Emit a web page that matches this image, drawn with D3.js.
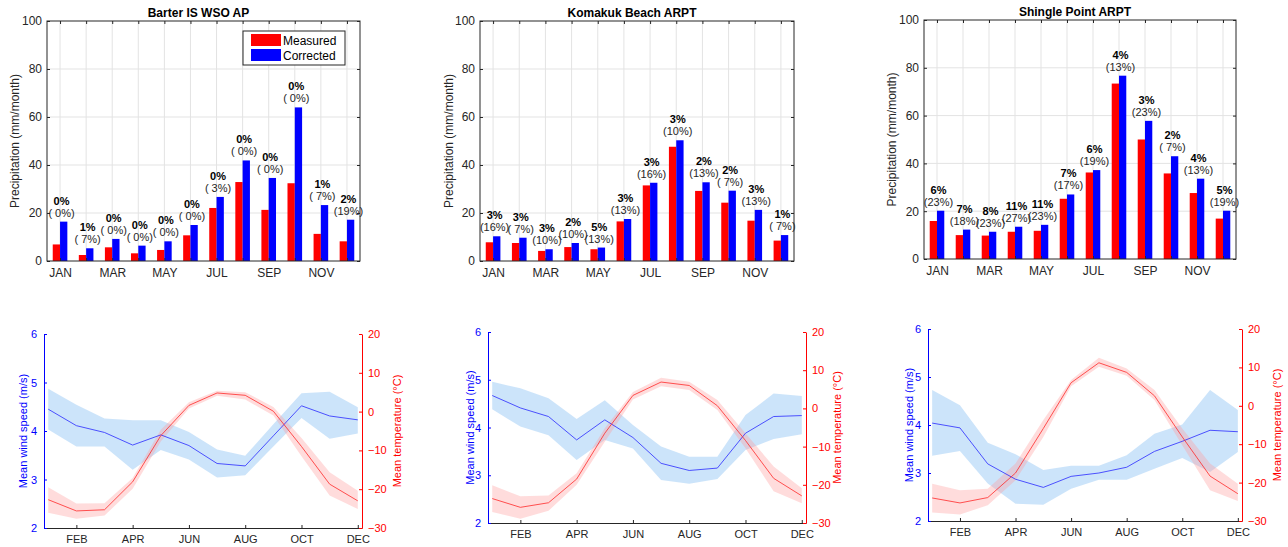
<!DOCTYPE html>
<html>
<head>
<meta charset="utf-8">
<script src="https://cdn.jsdelivr.net/npm/d3@7"></script>
<style>
  body { margin: 0; background: #fff; }
  svg { font-family: "Liberation Sans", Arial, sans-serif; }
  text { white-space: pre; }
</style>
</head>
<body>
<div id="chart"></div>
<script>
// month names
const months = ['JAN', 'FEB', 'MAR', 'APR', 'MAY', 'JUN', 'JUL', 'AUG', 'SEP', 'OCT', 'NOV', 'DEC'];
const stations = ['Barter IS WSO AP', 'Komakuk Beach ARPT', 'Shingle Point ARPT'];

// precipitation (mm/month)
const barterMeasured = [6.9, 2.5, 5.7, 3.2, 4.6, 10.7, 22.1, 32.9, 21.3, 32.4, 11.3, 8.2];
const barterCorrected = [16.4, 5.3, 9.2, 6.4, 8.2, 15.0, 26.7, 41.9, 34.6, 64.0, 23.3, 17.2];
const barterPct1 = ['0%', '1%', '0%', '0%', '0%', '0%', '0%', '0%', '0%', '0%', '1%', '2%'];
const barterPct2 = ['( 0%)', '( 7%)', '( 0%)', '( 0%)', '( 0%)', '( 0%)', '( 3%)', '( 0%)', '( 0%)', '( 0%)', '( 7%)', '(19%)'];

const komakukMeasured = [7.8, 7.5, 4.2, 5.8, 4.9, 16.5, 31.5, 47.6, 29.2, 24.3, 16.8, 8.5];
const komakukCorrected = [10.3, 9.7, 4.9, 7.5, 5.6, 17.5, 32.6, 50.3, 32.8, 29.3, 21.3, 10.8];
const komakukPct1 = ['3%', '3%', '3%', '2%', '5%', '3%', '3%', '3%', '2%', '2%', '3%', '1%'];
const komakukPct2 = ['(16%)', '( 7%)', '(10%)', '(10%)', '(13%)', '(13%)', '(16%)', '(10%)', '(13%)', '( 7%)', '(13%)', '( 7%)'];

const shingleMeasured = [15.9, 10.0, 9.8, 11.4, 11.8, 25.2, 36.2, 73.4, 50.0, 35.8, 27.6, 16.9];
const shingleCorrected = [20.2, 12.3, 11.4, 13.5, 14.3, 27.0, 37.2, 76.7, 57.8, 43.0, 33.6, 20.2];
const shinglePct1 = ['6%', '7%', '8%', '11%', '11%', '7%', '6%', '4%', '3%', '2%', '4%', '5%'];
const shinglePct2 = ['(23%)', '(18%)', '(23%)', '(27%)', '(23%)', '(17%)', '(19%)', '(13%)', '(23%)', '( 7%)', '(13%)', '(19%)'];

// wind speed (m/s): mean, lower, upper
const barterWind = [4.45, 4.11, 3.97, 3.71, 3.92, 3.70, 3.33, 3.28, 3.90, 4.52, 4.31, 4.23];
const barterWindLo = [4.03, 3.68, 3.68, 3.20, 3.61, 3.41, 3.04, 3.09, 3.68, 4.27, 3.84, 3.95];
const barterWindHi = [4.87, 4.54, 4.26, 4.22, 4.22, 3.98, 3.62, 3.49, 4.14, 4.78, 4.81, 4.49];
const komakukWind = [4.67, 4.41, 4.23, 3.74, 4.16, 3.79, 3.25, 3.10, 3.15, 3.88, 4.23, 4.25];
const komakukWindLo = [4.38, 4.02, 3.84, 3.32, 3.74, 3.56, 2.90, 2.82, 2.92, 3.53, 3.76, 3.86];
const komakukWindHi = [4.96, 4.82, 4.61, 4.18, 4.57, 4.05, 3.60, 3.39, 3.39, 4.26, 4.71, 4.66];
const shingleWind = [4.04, 3.94, 3.19, 2.87, 2.70, 2.93, 3.00, 3.12, 3.45, 3.66, 3.89, 3.86];
const shingleWindLo = [3.36, 3.46, 2.78, 2.36, 2.34, 2.67, 2.86, 2.86, 3.09, 3.31, 3.02, 3.44];
const shingleWindHi = [4.73, 4.41, 3.63, 3.39, 3.06, 3.15, 3.15, 3.37, 3.82, 4.01, 4.73, 4.31];

// temperature (degC): mean, lower, upper
const barterTemp = [-22.7, -25.6, -25.3, -18.1, -6.2, 1.6, 4.8, 4.2, 0.1, -9.0, -18.7, -23.0];
const barterTempLo = [-26.1, -27.6, -26.8, -19.9, -7.7, 0.8, 4.1, 3.1, -1.0, -11.5, -21.6, -25.1];
const barterTempHi = [-19.5, -23.7, -23.6, -17.1, -4.7, 2.4, 5.4, 5.0, 1.2, -6.8, -15.6, -20.4];
const komakukTemp = [-23.6, -25.9, -24.7, -18.5, -6.5, 3.4, 6.9, 6.0, 0.7, -8.4, -18.3, -22.9];
const komakukTempLo = [-27.1, -28.9, -26.8, -20.0, -8.7, 2.3, 5.8, 4.8, -0.4, -10.4, -21.7, -24.8];
const komakukTempHi = [-20.1, -23.0, -22.8, -17.0, -5.2, 4.3, 8.0, 7.0, 2.2, -6.5, -15.2, -20.9];
const shingleTemp = [-24.0, -25.3, -23.9, -17.5, -5.9, 6.0, 11.2, 8.7, 2.6, -8.1, -18.3, -22.9];
const shingleTempLo = [-27.8, -28.3, -25.9, -19.4, -8.1, 5.1, 10.2, 7.8, 1.5, -10.3, -22.0, -24.8];
const shingleTempHi = [-20.3, -22.0, -21.6, -15.0, -3.7, 6.7, 12.5, 9.7, 4.1, -5.9, -15.0, -20.3];

// panel boxes
const topBoxes = [
    { x0: 47, x1: 360, y0: 21, y1: 261, ylab: 15 },
    { x0: 480, x1: 794, y0: 21, y1: 261, ylab: 449 },
    { x0: 924, x1: 1236, y0: 20, y1: 259, ylab: 892 }
];
const botBoxes = [
    { x0: 44, x1: 362, y0: 334, y1: 528, ylabL: 23, ylabR: 397 },
    { x0: 488, x1: 806, y0: 332, y1: 523, ylabL: 470, ylabR: 837 },
    { x0: 928, x1: 1242, y0: 329, y1: 521, ylabL: 909, ylabR: 1277 }
];

const precip = [
    { m: barterMeasured, c: barterCorrected, p1: barterPct1, p2: barterPct2 },
    { m: komakukMeasured, c: komakukCorrected, p1: komakukPct1, p2: komakukPct2 },
    { m: shingleMeasured, c: shingleCorrected, p1: shinglePct1, p2: shinglePct2 }
];
const climate = [
    { w: barterWind, wl: barterWindLo, wh: barterWindHi, t: barterTemp, tl: barterTempLo, th: barterTempHi },
    { w: komakukWind, wl: komakukWindLo, wh: komakukWindHi, t: komakukTemp, tl: komakukTempLo, th: komakukTempHi },
    { w: shingleWind, wl: shingleWindLo, wh: shingleWindHi, t: shingleTemp, tl: shingleTempLo, th: shingleTempHi }
];

const axisColor = '#262626';
const gridColor = '#e3e3e3';

const svg = d3.select('#chart')
    .append('svg')
    .attr('width', 1288)
    .attr('height', 547);

function DrawBars(i) {
    const b = topBoxes[i];
    const d = precip[i];
    const g = svg.append('g');

    const x = d3.scaleLinear().domain([0.5, 12.5]).range([b.x0, b.x1]);
    const y = d3.scaleLinear().domain([0, 100]).range([b.y1, b.y0]);
    const step = x(2) - x(1);
    const bw = step * 0.28;
    const idx = d3.range(1, 13);

    // grid
    g.selectAll('.vgrid').data(idx).join('line')
        .attr('x1', k => x(k)).attr('x2', k => x(k))
        .attr('y1', b.y0).attr('y2', b.y1)
        .attr('stroke', gridColor).attr('stroke-width', 1);
    g.selectAll('.hgrid').data([20, 40, 60, 80]).join('line')
        .attr('x1', b.x0).attr('x2', b.x1)
        .attr('y1', v => y(v)).attr('y2', v => y(v))
        .attr('stroke', gridColor).attr('stroke-width', 1);

    // bars
    g.selectAll('.bm').data(d.m).join('rect')
        .attr('x', (v, k) => x(k + 1) - bw)
        .attr('y', v => y(v))
        .attr('width', bw)
        .attr('height', v => y(0) - y(v))
        .attr('fill', '#ff0000');
    g.selectAll('.bc').data(d.c).join('rect')
        .attr('x', (v, k) => x(k + 1))
        .attr('y', v => y(v))
        .attr('width', bw)
        .attr('height', v => y(0) - y(v))
        .attr('fill', '#0000ff');

    // labels
    idx.forEach(k => {
        const top = y(Math.max(d.m[k - 1], d.c[k - 1]));
        g.append('text')
            .attr('x', x(k) + 1.5).attr('y', top - 17)
            .attr('text-anchor', 'middle')
            .attr('font-size', 11).attr('font-weight', 'bold')
            .attr('fill', '#000')
            .text(d.p1[k - 1]);
        g.append('text')
            .attr('x', x(k) + 1.5).attr('y', top - 5)
            .attr('text-anchor', 'middle')
            .attr('font-size', 11)
            .attr('fill', axisColor)
            .text(d.p2[k - 1]);
    });

    // axes (box with inward ticks)
    g.append('g')
        .attr('transform', 'translate(0,' + b.y1 + ')')
        .call(d3.axisBottom(x).tickValues(idx).tickSizeInner(-3).tickSizeOuter(0)
            .tickFormat(k => (k % 2 === 1 ? months[k - 1] : '')))
        .call(a => a.select('.domain').remove())
        .call(a => a.selectAll('line').attr('stroke', axisColor))
        .call(a => a.selectAll('text').attr('dy', '0.71em').attr('y', 7)
            .attr('font-size', 12).attr('fill', axisColor).attr('font-family', null));
    g.append('g')
        .attr('transform', 'translate(0,' + b.y0 + ')')
        .call(d3.axisTop(x).tickValues(idx).tickSizeInner(-3).tickSizeOuter(0).tickFormat(''))
        .call(a => a.select('.domain').remove())
        .call(a => a.selectAll('line').attr('stroke', axisColor));
    g.append('g')
        .attr('transform', 'translate(' + b.x0 + ',0)')
        .call(d3.axisLeft(y).tickValues([0, 20, 40, 60, 80, 100]).tickSizeInner(-3).tickSizeOuter(0))
        .call(a => a.select('.domain').remove())
        .call(a => a.selectAll('line').attr('stroke', axisColor))
        .call(a => a.selectAll('text').attr('x', -5)
            .attr('font-size', 12).attr('fill', axisColor).attr('font-family', null));
    g.append('g')
        .attr('transform', 'translate(' + b.x1 + ',0)')
        .call(d3.axisRight(y).tickValues([0, 20, 40, 60, 80, 100]).tickSizeInner(-3).tickSizeOuter(0).tickFormat(''))
        .call(a => a.select('.domain').remove())
        .call(a => a.selectAll('line').attr('stroke', axisColor));
    g.append('rect')
        .attr('x', b.x0).attr('y', b.y0)
        .attr('width', b.x1 - b.x0).attr('height', b.y1 - b.y0)
        .attr('fill', 'none').attr('stroke', axisColor).attr('stroke-width', 1);

    // title
    g.append('text')
        .attr('x', (b.x0 + b.x1) / 2 - 5).attr('y', b.y0 - 4)
        .attr('text-anchor', 'middle')
        .attr('font-size', 12).attr('font-weight', 'bold')
        .text(stations[i]);

    // y label
    g.append('text')
        .attr('transform', 'translate(' + b.ylab + ',' + ((b.y0 + b.y1) / 2) + ') rotate(-90)')
        .attr('text-anchor', 'middle')
        .attr('dy', '0.35em')
        .attr('font-size', 12)
        .attr('fill', axisColor)
        .text('Precipitation (mm/month)');

    // legend only on the first panel
    if (i === 0) {
        const lg = g.append('g').attr('transform', 'translate(243,31)');
        lg.append('rect').attr('width', 102).attr('height', 34)
            .attr('fill', '#fff').attr('stroke', axisColor);
        const items = [['Measured', '#ff0000'], ['Corrected', '#0000ff']];
        items.forEach((it, k) => {
            lg.append('rect').attr('x', 8).attr('y', 3 + k * 15)
                .attr('width', 30).attr('height', 12).attr('fill', it[1]);
            lg.append('text').attr('x', 40).attr('y', 14 + k * 15)
                .attr('font-size', 12).attr('fill', '#000').text(it[0]);
        });
    }
}

function DrawClimate(i) {
    const b = botBoxes[i];
    const d = climate[i];
    const g = svg.append('g');

    const x = d3.scaleLinear().domain([0.85, 12.15]).range([b.x0, b.x1]);
    const yw = d3.scaleLinear().domain([2, 6]).range([b.y1, b.y0]);
    const yt = d3.scaleLinear().domain([-30, 20]).range([b.y1, b.y0]);

    const windBand = d3.area()
        .x((v, k) => x(k + 1))
        .y0((v, k) => yw(d.wl[k]))
        .y1((v, k) => yw(d.wh[k]));
    const tempBand = d3.area()
        .x((v, k) => x(k + 1))
        .y0((v, k) => yt(d.tl[k]))
        .y1((v, k) => yt(d.th[k]));

    g.append('path').datum(d.w).attr('d', windBand)
        .attr('fill', '#99c9f5').attr('fill-opacity', 0.5);
    g.append('path').datum(d.t).attr('d', tempBand)
        .attr('fill', '#ff9a9a').attr('fill-opacity', 0.35);

    g.append('path').datum(d.w)
        .attr('d', d3.line().x((v, k) => x(k + 1)).y(v => yw(v)))
        .attr('fill', 'none').attr('stroke', '#2a2aff').attr('stroke-width', 0.8);
    g.append('path').datum(d.t)
        .attr('d', d3.line().x((v, k) => x(k + 1)).y(v => yt(v)))
        .attr('fill', 'none').attr('stroke', '#ff2a2a').attr('stroke-width', 0.8);

    // x axis
    g.append('g')
        .attr('transform', 'translate(0,' + b.y1 + ')')
        .call(d3.axisBottom(x).tickValues([2, 4, 6, 8, 10, 12]).tickSizeInner(-3).tickSizeOuter(0)
            .tickFormat(k => months[k - 1]))
        .call(a => a.select('.domain').attr('stroke', axisColor))
        .call(a => a.selectAll('line').attr('stroke', axisColor))
        .call(a => a.selectAll('text').attr('dy', '0.71em').attr('y', 7)
            .attr('font-size', 11).attr('fill', axisColor).attr('font-family', null));

    // left axis (wind)
    g.append('g')
        .attr('transform', 'translate(' + b.x0 + ',0)')
        .call(d3.axisLeft(yw).tickValues([2, 3, 4, 5, 6]).tickFormat(d3.format('d'))
            .tickSizeInner(-3).tickSizeOuter(0))
        .call(a => a.select('.domain').attr('stroke', '#0000ff'))
        .call(a => a.selectAll('line').attr('stroke', '#0000ff'))
        .call(a => a.selectAll('text').attr('x', -7)
            .attr('font-size', 11).attr('fill', '#0000ff').attr('font-family', null));

    // right axis (temperature)
    g.append('g')
        .attr('transform', 'translate(' + b.x1 + ',0)')
        .call(d3.axisRight(yt).tickValues([-30, -20, -10, 0, 10, 20]).tickFormat(d3.format('d'))
            .tickSizeInner(-3).tickSizeOuter(0))
        .call(a => a.select('.domain').attr('stroke', '#ff0000'))
        .call(a => a.selectAll('line').attr('stroke', '#ff0000'))
        .call(a => a.selectAll('text').attr('x', 6)
            .attr('font-size', 11).attr('fill', '#ff0000').attr('font-family', null));

    g.append('text')
        .attr('transform', 'translate(' + b.ylabL + ',' + ((b.y0 + b.y1) / 2) + ') rotate(-90)')
        .attr('text-anchor', 'middle').attr('dy', '0.35em')
        .attr('font-size', 11).attr('fill', '#0000ff')
        .text('Mean wind speed (m/s)');
    g.append('text')
        .attr('transform', 'translate(' + b.ylabR + ',' + ((b.y0 + b.y1) / 2) + ') rotate(-90)')
        .attr('text-anchor', 'middle').attr('dy', '0.35em')
        .attr('font-size', 11).attr('fill', '#ff0000')
        .text('Mean temperature (°C)');
}

for (let i = 0; i < 3; i++) {
    DrawBars(i);
    DrawClimate(i);
}
</script>
</body>
</html>
